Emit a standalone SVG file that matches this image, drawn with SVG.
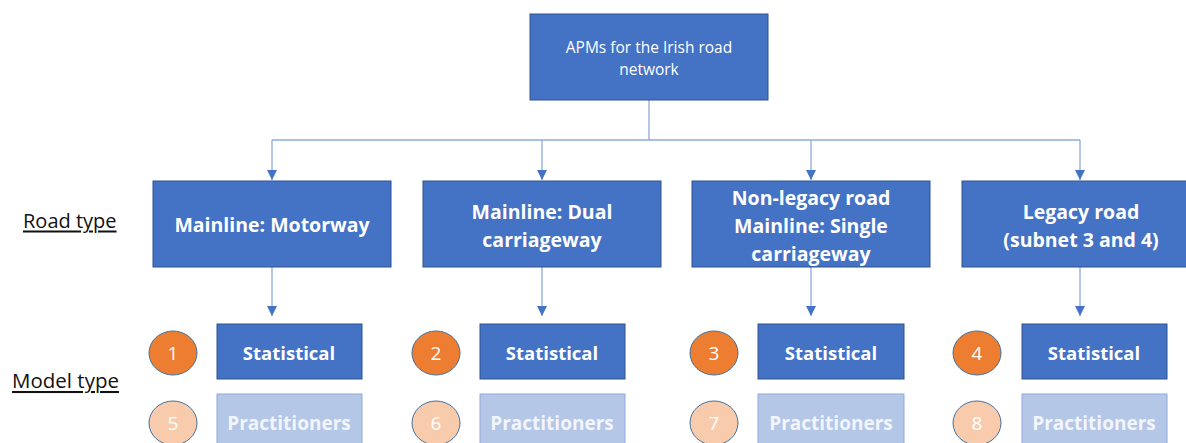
<svg xmlns="http://www.w3.org/2000/svg" width="1186" height="443" viewBox="0 0 1186 443">
<defs>
<marker id="arr" viewBox="0 0 10 10" refX="10" refY="5" markerWidth="10" markerHeight="10" markerUnits="userSpaceOnUse" orient="auto">
<path d="M0,0 L10,5 L0,10 z" fill="#4472C4"/>
</marker>
<style>
.box{fill:#4472C4;stroke:#2F528F;stroke-width:1}
.lbox{fill:#B4C7E7;stroke:#8FAADC;stroke-width:1}
.c1{fill:#ED7D31;stroke:#41719C;stroke-width:1}
.c2{fill:#F8CBAD;stroke:#41719C;stroke-width:1}
.t{font-family:"Open Sans","Liberation Sans",sans-serif;fill:#FFFFFF;text-anchor:middle;dominant-baseline:central}
.b{font-weight:bold;font-size:19.5px}
.s{font-weight:bold;font-size:18.5px}
.n{font-size:19px}
.p{fill:#F2F5FB;font-size:19px}
.lab{font-family:"Open Sans","Liberation Sans",sans-serif;font-size:20px;fill:#111;text-decoration:underline}
.con{fill:none;stroke:#8FAADC;stroke-width:1.3}
</style>
</defs>
<g id="connectors">
<path class="con" d="M649,100 V140 M272,140 H1080"/>
<path class="con" d="M272,140 V180" marker-end="url(#arr)"/>
<path class="con" d="M542,140 V180" marker-end="url(#arr)"/>
<path class="con" d="M811,140 V180" marker-end="url(#arr)"/>
<path class="con" d="M1080,140 V180" marker-end="url(#arr)"/>
<path class="con" d="M272,267 V316" marker-end="url(#arr)"/>
<path class="con" d="M542,267 V316" marker-end="url(#arr)"/>
<path class="con" d="M811,267 V316" marker-end="url(#arr)"/>
<path class="con" d="M1080,267 V316" marker-end="url(#arr)"/>
</g>
<g id="root">
<rect class="box" x="530" y="14" width="238" height="86"/>
<text class="t" x="649" y="47" style="font-size:15.5px">APMs for the Irish road</text>
<text class="t" x="649" y="69" style="font-size:15.5px">network</text>
</g>
<g id="label-road"><text class="lab" x="23" y="220" dominant-baseline="central">Road type</text></g>
<g id="label-model"><text class="lab" x="12" y="380" dominant-baseline="central" style="font-size:20.5px">Model type</text></g>
<g id="road1">
<rect class="box" x="153" y="181" width="238" height="86"/>
<text class="t b" x="272" y="224">Mainline: Motorway</text>
</g>
<g id="road2">
<rect class="box" x="423" y="181" width="238" height="86"/>
<text class="t b" x="542" y="211">Mainline: Dual</text>
<text class="t b" x="542" y="239">carriageway</text>
</g>
<g id="road3">
<rect class="box" x="692" y="181" width="238" height="86"/>
<text class="t b" x="811" y="197">Non-legacy road</text>
<text class="t b" x="811" y="225">Mainline: Single</text>
<text class="t b" x="811" y="253">carriageway</text>
</g>
<g id="road4">
<rect class="box" x="962" y="181" width="238" height="86"/>
<text class="t b" x="1081" y="211">Legacy road</text>
<text class="t b" x="1081" y="239">(subnet 3 and 4)</text>
</g>
<g id="stat1"><rect class="box" x="217" y="324" width="145" height="55"/><text class="t s" x="289" y="352">Statistical</text></g>
<g id="stat2"><rect class="box" x="480" y="324" width="145" height="55"/><text class="t s" x="552" y="352">Statistical</text></g>
<g id="stat3"><rect class="box" x="758" y="324" width="146" height="55"/><text class="t s" x="831" y="352">Statistical</text></g>
<g id="stat4"><rect class="box" x="1022" y="324" width="145" height="55"/><text class="t s" x="1094" y="352">Statistical</text></g>
<g id="prac1"><rect class="lbox" x="217" y="394" width="145" height="60"/><text class="t s p" x="289" y="423">Practitioners</text></g>
<g id="prac2"><rect class="lbox" x="480" y="394" width="145" height="60"/><text class="t s p" x="552" y="423">Practitioners</text></g>
<g id="prac3"><rect class="lbox" x="758" y="394" width="146" height="60"/><text class="t s p" x="831" y="423">Practitioners</text></g>
<g id="prac4"><rect class="lbox" x="1022" y="394" width="145" height="60"/><text class="t s p" x="1094" y="423">Practitioners</text></g>
<g id="num1"><ellipse class="c1" cx="173" cy="353" rx="24" ry="22"/><text class="t n" x="173" y="353">1</text></g>
<g id="num2"><ellipse class="c1" cx="436" cy="353" rx="24" ry="22"/><text class="t n" x="436" y="353">2</text></g>
<g id="num3"><ellipse class="c1" cx="714" cy="353" rx="24" ry="22"/><text class="t n" x="714" y="353">3</text></g>
<g id="num4"><ellipse class="c1" cx="977" cy="353" rx="24" ry="22"/><text class="t n" x="977" y="353">4</text></g>
<g id="num5"><ellipse class="c2" cx="173" cy="423" rx="24" ry="22"/><text class="t n" x="173" y="423">5</text></g>
<g id="num6"><ellipse class="c2" cx="436" cy="423" rx="24" ry="22"/><text class="t n" x="436" y="423">6</text></g>
<g id="num7"><ellipse class="c2" cx="714" cy="423" rx="24" ry="22"/><text class="t n" x="714" y="423">7</text></g>
<g id="num8"><ellipse class="c2" cx="977" cy="423" rx="24" ry="22"/><text class="t n" x="977" y="423">8</text></g>
</svg>
